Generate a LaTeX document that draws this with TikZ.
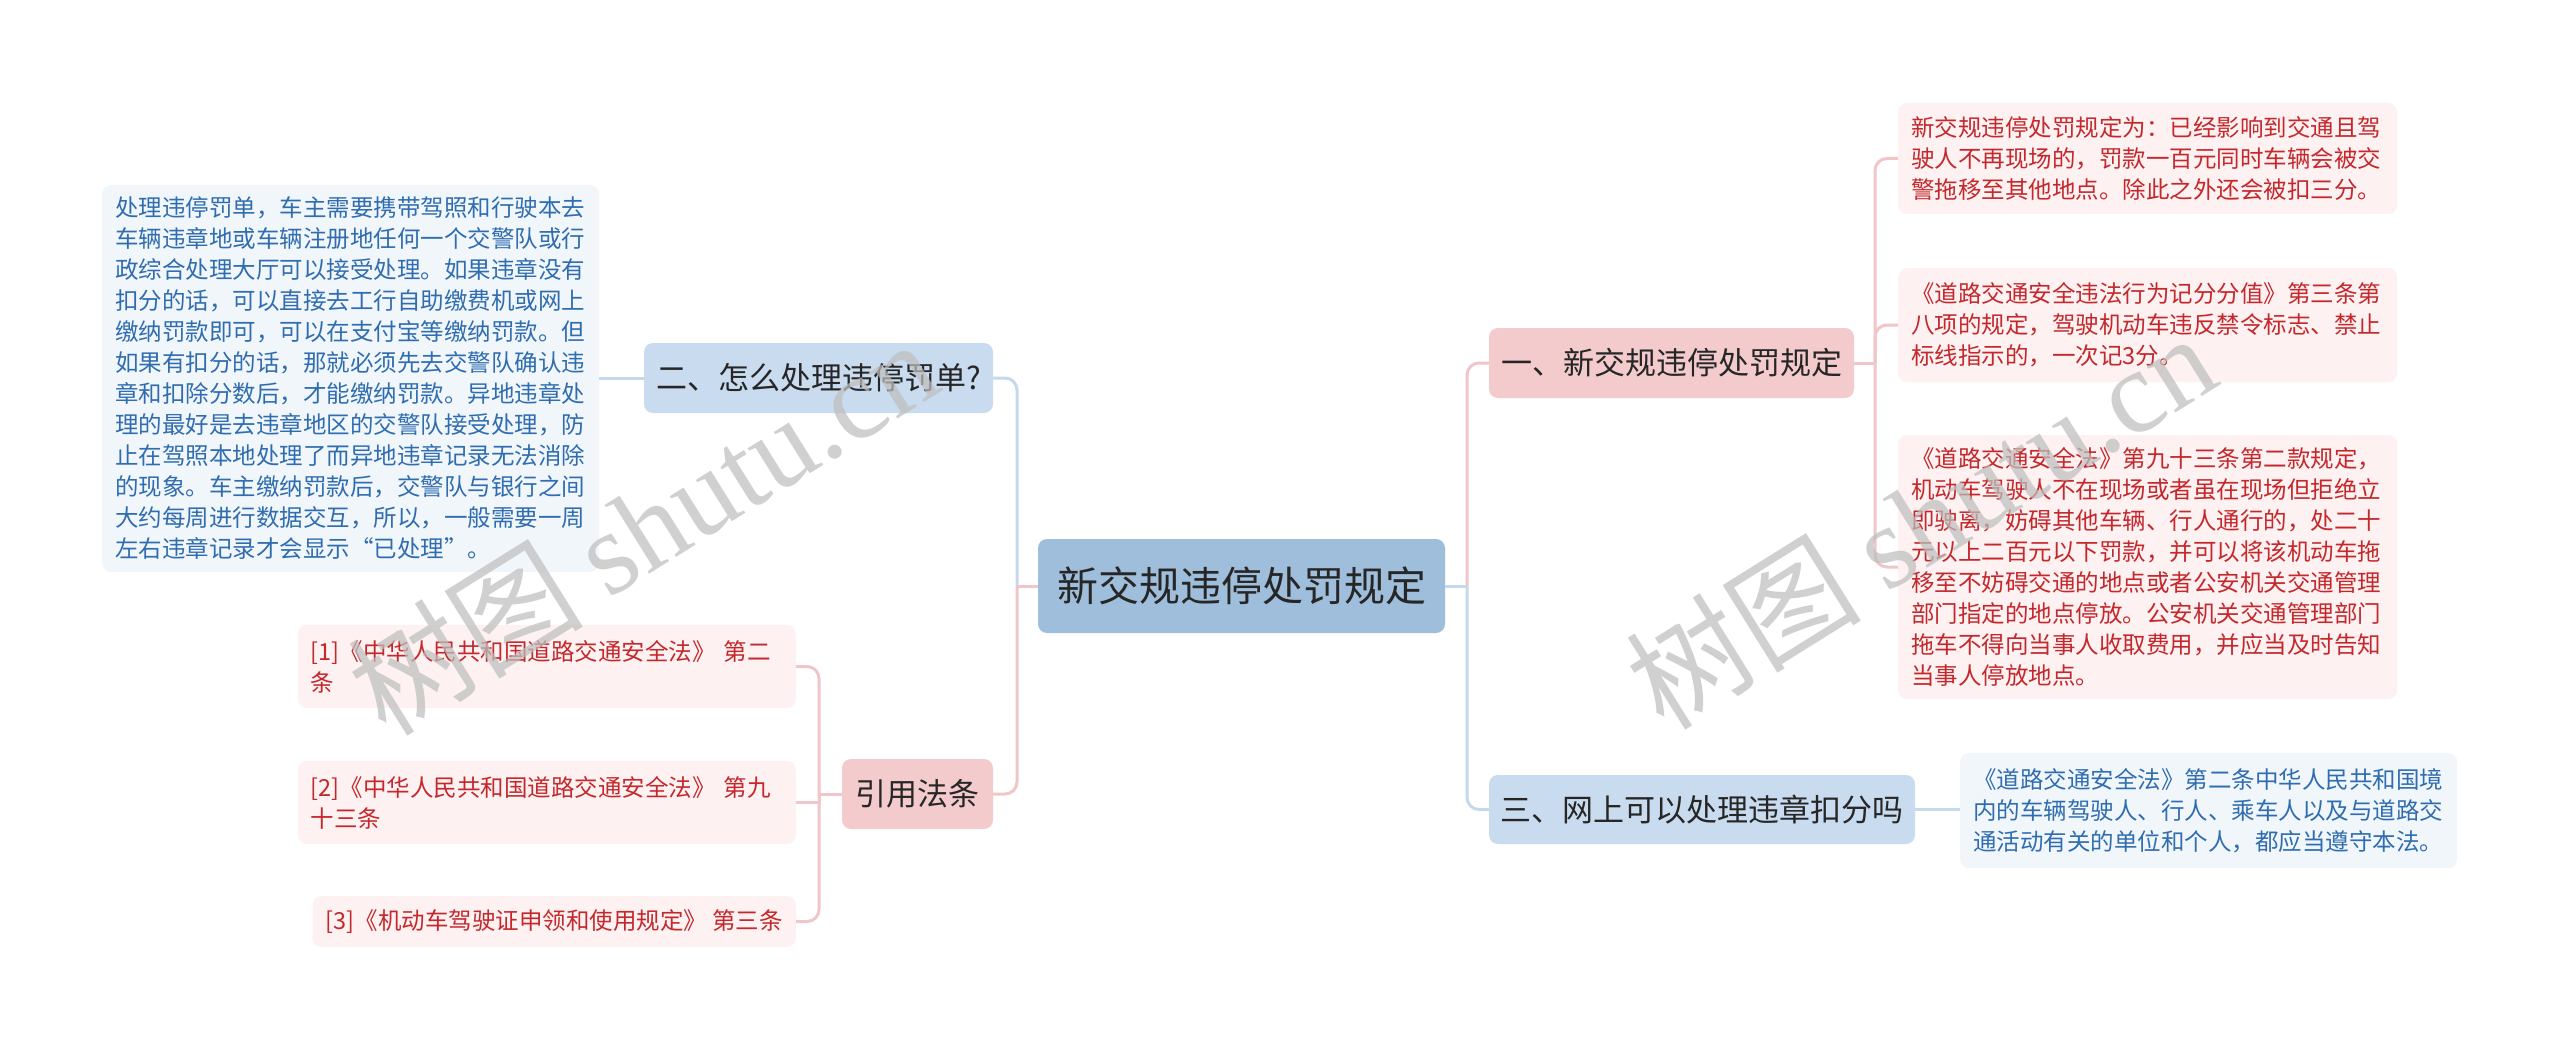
\documentclass[tikz,border=0pt]{standalone}
\usepackage{fontspec}
\setmainfont{Noto Sans CJK SC}
\newfontfamily\wmlatin{Liberation Serif}
\definecolor{rootc}{HTML}{9FBEDB}
\definecolor{bluec}{HTML}{C9DBEE}
\definecolor{pinkc}{HTML}{F3CBCC}
\definecolor{leafblue}{HTML}{F1F6FB}
\definecolor{leafpink}{HTML}{FDF1F1}
\definecolor{redt}{HTML}{C4282C}
\definecolor{bluet}{HTML}{2F6DB0}
\definecolor{darkc}{HTML}{262626}
\definecolor{pinkl}{HTML}{F0C6C8}
\definecolor{bluel}{HTML}{C6D9EC}
\definecolor{wmc}{HTML}{BEBEBE}
\tikzset{
  rootbox/.style={fill=rootc, rounded corners=9pt, text=darkc, font=\fontsize{41}{48}\selectfont, minimum width=407pt, minimum height=94pt, inner sep=0pt},
  branch/.style={rounded corners=9pt, text=darkc, font=\fontsize{31}{36}\selectfont, minimum height=70pt, inner sep=0pt},
  bbl/.style={branch, fill=bluec},
  bpk/.style={branch, fill=pinkc},
  leaf/.style={rounded corners=9pt, font=\fontsize{23.5}{31}\selectfont, align=left, inner xsep=13pt, inner ysep=0pt},
  leafr/.style={leaf, fill=leafpink, text=redt},
  leafb/.style={leaf, fill=leafblue, text=bluet},
  pl/.style={draw=pinkl, line width=3pt},
  bl/.style={draw=bluel, line width=3pt},
  wm/.style={text=wmc, opacity=0.72, font=\fontsize{118}{124}\selectfont, inner sep=0pt}
}
\begin{document}
\begin{tikzpicture}[x=1pt,y=-1pt]
\fill[white] (0,0) rectangle (2560,1051);
\useasboundingbox (0,0) rectangle (2560,1051);

% root and branches
\node[rootbox] (root) at (1241.5,586) {新交规违停处罚规定};
\node[bbl, minimum width=349pt] (q2) at (818.5,378) {二、怎么处理违停罚单?};
\node[bpk, minimum width=151pt] (ref) at (917.5,794) {引用法条};
\node[bpk, minimum width=365pt] (b1) at (1671.5,363) {一、新交规违停处罚规定};
\node[bbl, minimum width=426pt, minimum height=69pt] (b3) at (1702,809.5) {三、网上可以处理违章扣分吗};

% left leaf
\node[leafb, text width=471pt, minimum height=387pt] (lbox) at (350.5,378.5) {处理违停罚单，车主需要携带驾照和行驶本去\\车辆违章地或车辆注册地任何一个交警队或行\\政综合处理大厅可以接受处理。如果违章没有\\扣分的话，可以直接去工行自助缴费机或网上\\缴纳罚款即可，可以在支付宝等缴纳罚款。但\\如果有扣分的话，那就必须先去交警队确认违\\章和扣除分数后，才能缴纳罚款。异地违章处\\理的最好是去违章地区的交警队接受处理，防\\止在驾照本地处理了而异地违章记录无法消除\\的现象。车主缴纳罚款后，交警队与银行之间\\大约每周进行数据交互，所以，一般需要一周\\左右违章记录才会显示“已处理”。};

% references
\node[leafr, text width=472pt, minimum height=83pt, anchor=east] (f1) at (796,666.5) {[1]《中华人民共和国道路交通安全法》~第二\\条};
\node[leafr, text width=472pt, minimum height=83pt, anchor=east] (f2) at (796,802.5) {[2]《中华人民共和国道路交通安全法》~第九\\十三条};
\node[leafr, minimum height=51pt, anchor=east] (f3) at (796,921.5) {[3]《机动车驾驶证申领和使用规定》~第三条};

% right leaves
\node[leafr, text width=473pt, minimum height=111pt, anchor=west] (r1) at (1898,158.5) {新交规违停处罚规定为：已经影响到交通且驾\\驶人不再现场的，罚款一百元同时车辆会被交\\警拖移至其他地点。除此之外还会被扣三分。};
\node[leafr, text width=473pt, minimum height=114pt, anchor=west] (r2) at (1898,325) {《道路交通安全违法行为记分分值》第三条第\\八项的规定，驾驶机动车违反禁令标志、禁止\\标线指示的，一次记3分。};
\node[leafr, text width=473pt, minimum height=264pt, anchor=west] (r3) at (1898,567) {《道路交通安全法》第九十三条第二款规定，\\机动车驾驶人不在现场或者虽在现场但拒绝立\\即驶离，妨碍其他车辆、行人通行的，处二十\\元以上二百元以下罚款，并可以将该机动车拖\\移至不妨碍交通的地点或者公安机关交通管理\\部门指定的地点停放。公安机关交通管理部门\\拖车不得向当事人收取费用，并应当及时告知\\当事人停放地点。};
\node[leafb, text width=471pt, minimum height=115pt, anchor=west] (r4) at (1960,810.5) {《道路交通安全法》第二条中华人民共和国境\\内的车辆驾驶人、行人、乘车人以及与道路交\\通活动有关的单位和个人，都应当遵守本法。};

% trunk coordinates
\coordinate (lt) at (1017,586);
\coordinate (rt) at (1467,586);
\coordinate (st) at (1875,363);
\coordinate (ft) at (819,794);

% connectors
\draw[pl] (root.west) -- (lt);
\draw[bl, rounded corners=12pt] (lt) |- (q2.east);
\draw[pl, rounded corners=12pt] (lt) |- (ref.east);
\draw[bl] (root.east) -- (rt);
\draw[pl, rounded corners=12pt] (rt) |- (b1.west);
\draw[bl, rounded corners=12pt] (rt) |- (b3.west);
\draw[bl] (q2.west) -- (q2.west -| lbox.east);
\draw[pl] (ref.west) -- (ft);
\draw[pl, rounded corners=12pt] (ft) |- (f1.east);
\draw[pl] (ft) |- (f2.east);
\draw[pl, rounded corners=12pt] (ft) |- (f3.east);
\draw[pl] (b1.east) -- (st);
\draw[pl, rounded corners=12pt] (st) |- (r1.west);
\draw[pl, rounded corners=12pt] (st) |- (r2.west);
\draw[pl, rounded corners=12pt] (st) |- (r3.west);
\draw[bl] (b3.east) -- (b3.east -| r4.west);

% watermarks
\node[wm, rotate=32] (wm1) at (642,526) {树图 {\wmlatin shutu.cn}};
\node[wm, rotate=32] (wm2) at (1920,520) {树图 {\wmlatin shutu.cn}};
\end{tikzpicture}
\end{document}
